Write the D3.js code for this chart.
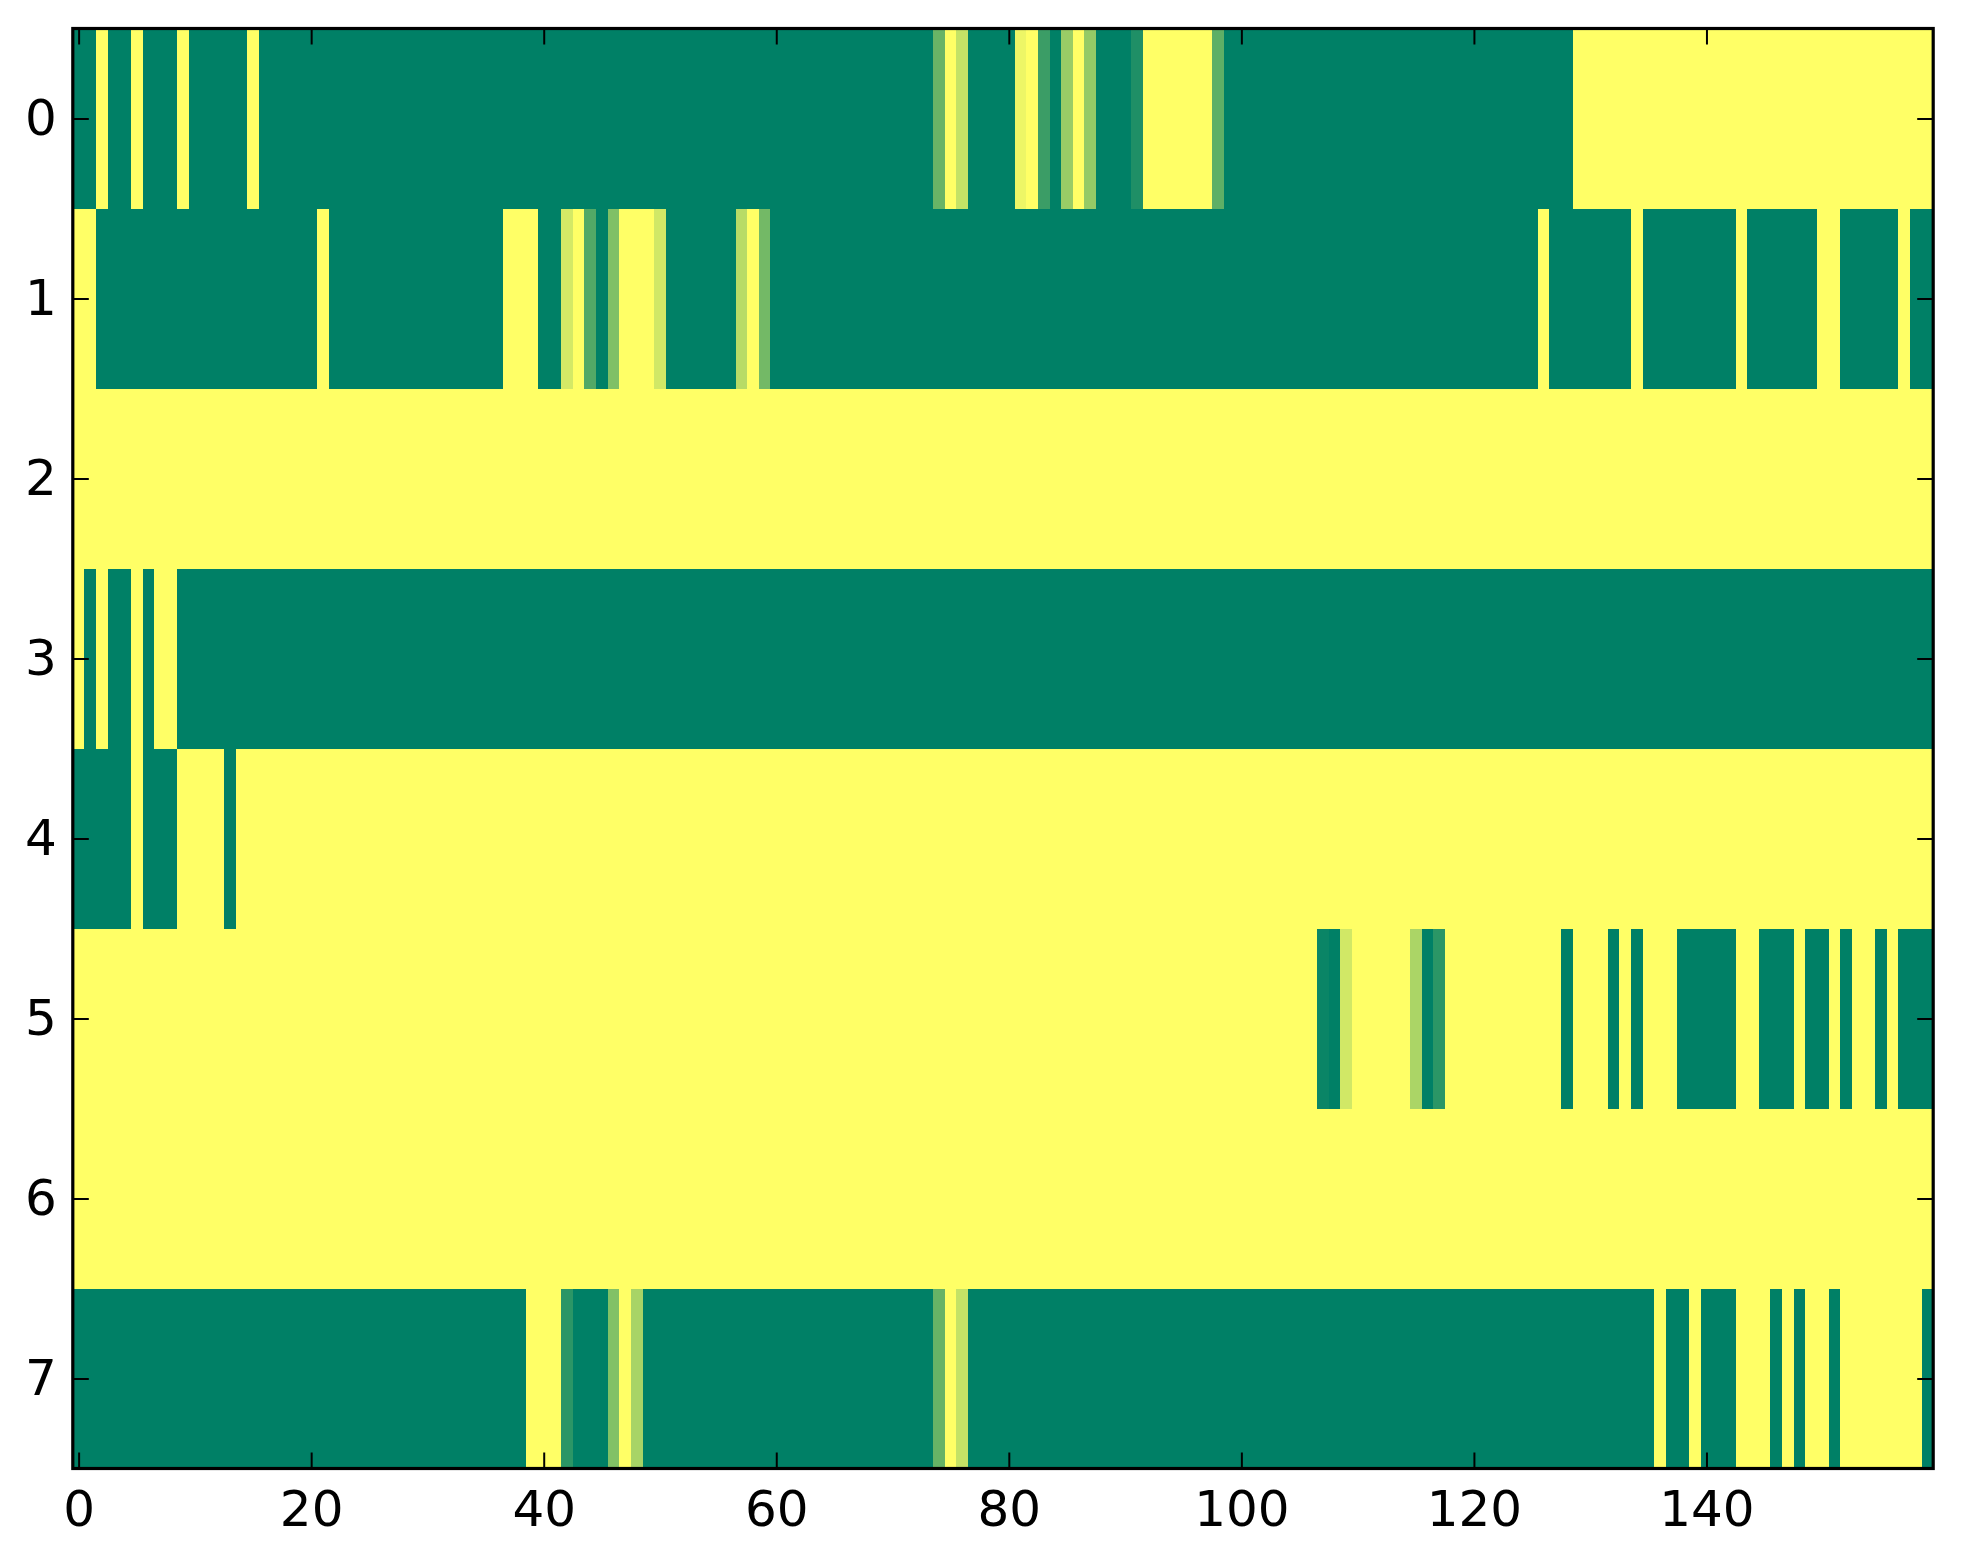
<!DOCTYPE html>
<html>
<head>
<meta charset="utf-8">
<script src="https://cdn.jsdelivr.net/npm/d3@7"></script>
<style>
html, body { margin: 0; padding: 0; background: #ffffff; }
svg { display: block; }
</style>
</head>
<body>
<svg id="chart" width="1963" height="1564"></svg>
<script>
// ---- data (one array per image row, 160 columns each; 0 = green end, 1 = yellow end) ----
const row0 = [
  0,0,1,0,0,1,0,0,0,1,0,0,0,0,0,1,0,0,0,0,
  0,0,0,0,0,0,0,0,0,0,0,0,0,0,0,0,0,0,0,0,
  0,0,0,0,0,0,0,0,0,0,0,0,0,0,0,0,0,0,0,0,
  0,0,0,0,0,0,0,0,0,0,0,0,0,0,0.41,1,0.77,0,0,0,
  0,0.93,1,0.23,0,0.60,1,0.58,0,0,0,0.12,1,1,1,1,1,1,0.37,0,
  0,0,0,0,0,0,0,0,0,0,0,0,0,0,0,0,0,0,0,0,
  0,0,0,0,0,0,0,0,0,1,1,1,1,1,1,1,1,1,1,1,
  1,1,1,1,1,1,1,1,1,1,1,1,1,1,1,1,1,1,1,1
];
const row1 = [
  1,1,0,0,0,0,0,0,0,0,0,0,0,0,0,0,0,0,0,0,
  0,1,0,0,0,0,0,0,0,0,0,0,0,0,0,0,0,1,1,1,
  0,0,0.83,1,0.32,0,0.50,1,1,1,0.82,0,0,0,0,0,0,0.72,1,0.45,
  0,0,0,0,0,0,0,0,0,0,0,0,0,0,0,0,0,0,0,0,
  0,0,0,0,0,0,0,0,0,0,0,0,0,0,0,0,0,0,0,0,
  0,0,0,0,0,0,0,0,0,0,0,0,0,0,0,0,0,0,0,0,
  0,0,0,0,0,0,1,0,0,0,0,0,0,0,1,0,0,0,0,0,
  0,0,0,1,0,0,0,0,0,0,1,1,0,0,0,0,0,1,0,0
];
const row2 = [
  1,1,1,1,1,1,1,1,1,1,1,1,1,1,1,1,1,1,1,1,
  1,1,1,1,1,1,1,1,1,1,1,1,1,1,1,1,1,1,1,1,
  1,1,1,1,1,1,1,1,1,1,1,1,1,1,1,1,1,1,1,1,
  1,1,1,1,1,1,1,1,1,1,1,1,1,1,1,1,1,1,1,1,
  1,1,1,1,1,1,1,1,1,1,1,1,1,1,1,1,1,1,1,1,
  1,1,1,1,1,1,1,1,1,1,1,1,1,1,1,1,1,1,1,1,
  1,1,1,1,1,1,1,1,1,1,1,1,1,1,1,1,1,1,1,1,
  1,1,1,1,1,1,1,1,1,1,1,1,1,1,1,1,1,1,1,1
];
const row3 = [
  1,0,1,0,0,1,0,1,1,0,0,0,0,0,0,0,0,0,0,0,
  0,0,0,0,0,0,0,0,0,0,0,0,0,0,0,0,0,0,0,0,
  0,0,0,0,0,0,0,0,0,0,0,0,0,0,0,0,0,0,0,0,
  0,0,0,0,0,0,0,0,0,0,0,0,0,0,0,0,0,0,0,0,
  0,0,0,0,0,0,0,0,0,0,0,0,0,0,0,0,0,0,0,0,
  0,0,0,0,0,0,0,0,0,0,0,0,0,0,0,0,0,0,0,0,
  0,0,0,0,0,0,0,0,0,0,0,0,0,0,0,0,0,0,0,0,
  0,0,0,0,0,0,0,0,0,0,0,0,0,0,0,0,0,0,0,0
];
const row4 = [
  0,0,0,0,0,1,0,0,0,1,1,1,1,0,1,1,1,1,1,1,
  1,1,1,1,1,1,1,1,1,1,1,1,1,1,1,1,1,1,1,1,
  1,1,1,1,1,1,1,1,1,1,1,1,1,1,1,1,1,1,1,1,
  1,1,1,1,1,1,1,1,1,1,1,1,1,1,1,1,1,1,1,1,
  1,1,1,1,1,1,1,1,1,1,1,1,1,1,1,1,1,1,1,1,
  1,1,1,1,1,1,1,1,1,1,1,1,1,1,1,1,1,1,1,1,
  1,1,1,1,1,1,1,1,1,1,1,1,1,1,1,1,1,1,1,1,
  1,1,1,1,1,1,1,1,1,1,1,1,1,1,1,1,1,1,1,1
];
const row5 = [
  1,1,1,1,1,1,1,1,1,1,1,1,1,1,1,1,1,1,1,1,
  1,1,1,1,1,1,1,1,1,1,1,1,1,1,1,1,1,1,1,1,
  1,1,1,1,1,1,1,1,1,1,1,1,1,1,1,1,1,1,1,1,
  1,1,1,1,1,1,1,1,1,1,1,1,1,1,1,1,1,1,1,1,
  1,1,1,1,1,1,1,1,1,1,1,1,1,1,1,1,1,1,1,1,
  1,1,1,1,1,1,1,0.04,0,0.82,1,1,1,1,1,0.67,0,0.17,1,1,
  1,1,1,1,1,1,1,1,0,1,1,1,0,1,0,1,1,1,0,0,
  0,0,0,1,1,0,0,0,1,0,0,1,0,1,1,0,1,0,0,0
];
const row6 = [
  1,1,1,1,1,1,1,1,1,1,1,1,1,1,1,1,1,1,1,1,
  1,1,1,1,1,1,1,1,1,1,1,1,1,1,1,1,1,1,1,1,
  1,1,1,1,1,1,1,1,1,1,1,1,1,1,1,1,1,1,1,1,
  1,1,1,1,1,1,1,1,1,1,1,1,1,1,1,1,1,1,1,1,
  1,1,1,1,1,1,1,1,1,1,1,1,1,1,1,1,1,1,1,1,
  1,1,1,1,1,1,1,1,1,1,1,1,1,1,1,1,1,1,1,1,
  1,1,1,1,1,1,1,1,1,1,1,1,1,1,1,1,1,1,1,1,
  1,1,1,1,1,1,1,1,1,1,1,1,1,1,1,1,1,1,1,1
];
const row7 = [
  0,0,0,0,0,0,0,0,0,0,0,0,0,0,0,0,0,0,0,0,
  0,0,0,0,0,0,0,0,0,0,0,0,0,0,0,0,0,0,0,1,
  1,1,0.17,0,0,0,0.51,1,0.66,0,0,0,0,0,0,0,0,0,0,0,
  0,0,0,0,0,0,0,0,0,0,0,0,0,0,0.40,1,0.77,0,0,0,
  0,0,0,0,0,0,0,0,0,0,0,0,0,0,0,0,0,0,0,0,
  0,0,0,0,0,0,0,0,0,0,0,0,0,0,0,0,0,0,0,0,
  0,0,0,0,0,0,0,0,0,0,0,0,0,0,0,0,1,0,0,1,
  0,0,0,1,1,1,0,1,0,1,1,0,1,1,1,1,1,1,1,0
];
const rows = [row0, row1, row2, row3, row4, row5, row6, row7];
const xTickValues = [0, 20, 40, 60, 80, 100, 120, 140];
const yTickValues = [0, 1, 2, 3, 4, 5, 6, 7];

(function () {
  // ---- layout ----
  const W = 1963, H = 1564;
  const mLeft = 72.8, mRight = 1933.2, mTop = 28.5, mBottom = 1468.5;
  const nCols = row0.length, nRows = rows.length;

  const svg = d3.select("#chart");
  svg.append("rect").attr("width", W).attr("height", H).attr("fill", "#ffffff");

  const x = d3.scaleLinear().domain([-0.5, nCols - 0.5]).range([mLeft, mRight]);
  const y = d3.scaleLinear().domain([-0.5, nRows - 0.5]).range([mTop, mBottom]);
  // matplotlib "summer" colormap: linear from (0,0.5,0.4) to (1,1,0.4)
  const color = d3.scaleLinear().domain([0, 1]).range(["#008066", "#ffff66"]).interpolate(d3.interpolateRgb);

  const cells = [];
  rows.forEach((r, ri) => r.forEach((v, ci) => cells.push({ r: ri, c: ci, v })));

  svg.append("g")
    .selectAll("rect")
    .data(cells)
    .join("rect")
    .attr("x", d => x(d.c - 0.5))
    .attr("y", d => y(d.r - 0.5))
    .attr("width", d => x(d.c + 0.5) - x(d.c - 0.5) + 0.6)
    .attr("height", d => y(d.r + 0.5) - y(d.r - 0.5) + 0.6)
    .attr("fill", d => color(d.v))
    .attr("shape-rendering", "crispEdges");

  const font = "'DejaVu Sans', sans-serif";
  const tickLen = 16;

  function styleAxis(g, showLabels) {
    g.select(".domain").remove();
    g.selectAll(".tick line").attr("stroke", "#000").attr("stroke-width", 2);
    g.selectAll(".tick text")
      .attr("fill", "#000")
      .style("font-family", font)
      .style("font-size", "50px");
    if (!showLabels) g.selectAll(".tick text").remove();
  }

  svg.append("g").attr("transform", `translate(0,${mBottom})`)
    .call(d3.axisBottom(x).tickValues(xTickValues).tickSize(-tickLen).tickPadding(22).tickFormat(d3.format("d")))
    .call(g => styleAxis(g, true));
  svg.append("g").attr("transform", `translate(0,${mTop})`)
    .call(d3.axisTop(x).tickValues(xTickValues).tickSize(-tickLen))
    .call(g => styleAxis(g, false));
  svg.append("g").attr("transform", `translate(${mLeft},0)`)
    .call(d3.axisLeft(y).tickValues(yTickValues).tickSize(-tickLen).tickPadding(16).tickFormat(d3.format("d")))
    .call(g => styleAxis(g, true));
  svg.append("g").attr("transform", `translate(${mRight},0)`)
    .call(d3.axisRight(y).tickValues(yTickValues).tickSize(-tickLen))
    .call(g => styleAxis(g, false));

  // frame
  svg.append("rect")
    .attr("x", mLeft).attr("y", mTop)
    .attr("width", mRight - mLeft).attr("height", mBottom - mTop)
    .attr("fill", "none").attr("stroke", "#000").attr("stroke-width", 3.2);
})();
</script>
</body>
</html>
